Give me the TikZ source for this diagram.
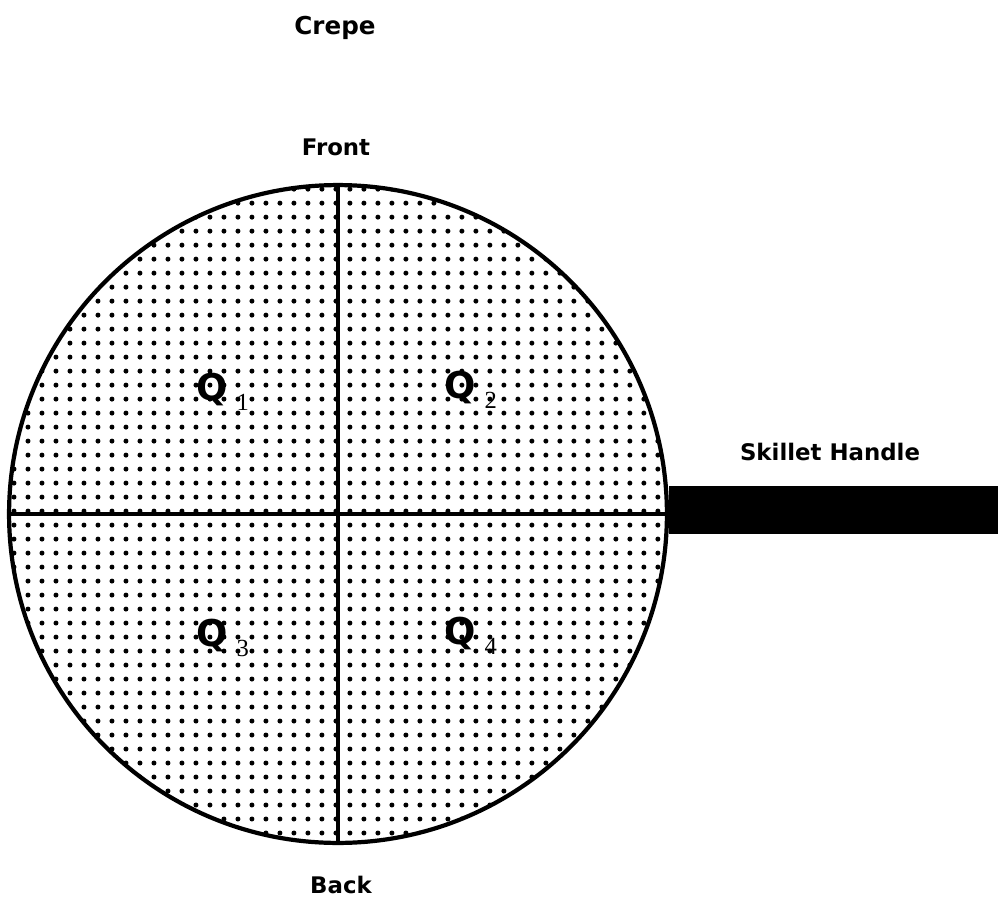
\documentclass[tikz,border=0pt]{standalone}
\usepackage{fontspec}
\setmainfont{DejaVu Sans}
\newfontfamily\subfont{Liberation Serif}
\usetikzlibrary{patterns.meta}
\newcommand{\qlab}[1]{{\fontsize{21}{21}\selectfont\bfseries Q}\kern5pt\raisebox{-6pt}{\subfont\fontsize{14}{14}\selectfont #1}}
\tikzset{
  lbl/.style={font=\fontsize{13}{13}\selectfont\bfseries, inner sep=0pt},
  qlbl/.style={inner sep=0pt, anchor=west},
  divider/.style={line width=1.8pt},
}
\begin{document}
\begin{tikzpicture}[x=0.02cm,y=-0.02cm]
\useasboundingbox (0,0) rectangle (998,903);
\node[circle, draw, line width=2.4pt, minimum size=13.16cm, inner sep=0pt,
      pattern={Dots[radius=0.05cm, distance=0.28cm]}] (pan) at (338,514) {};
\draw[divider] (pan.north) -- (pan.south);
\draw[divider] (pan.west) -- (pan.east);
\node[rectangle, fill=black, draw=black, inner sep=0pt, minimum width=6.64cm, minimum height=0.94cm, anchor=west] (handle) at ([yshift=0.08cm]pan.east) {};
\node[lbl, font=\fontsize{14}{14}\selectfont\bfseries] (crepe) at (335,28) {Crepe};
\node[lbl] (front) at (336,147) {Front};
\node[lbl] (back) at (341,885) {Back};
\node[lbl] (hlabel) at (830,452) {Skillet Handle};
\node[qlbl] (q1) at (196,392) {\qlab{1}};
\node[qlbl] (q2) at (444,390) {\qlab{2}};
\node[qlbl] (q3) at (196,638) {\qlab{3}};
\node[qlbl] (q4) at (444,636) {\qlab{4}};
\end{tikzpicture}
\end{document}
